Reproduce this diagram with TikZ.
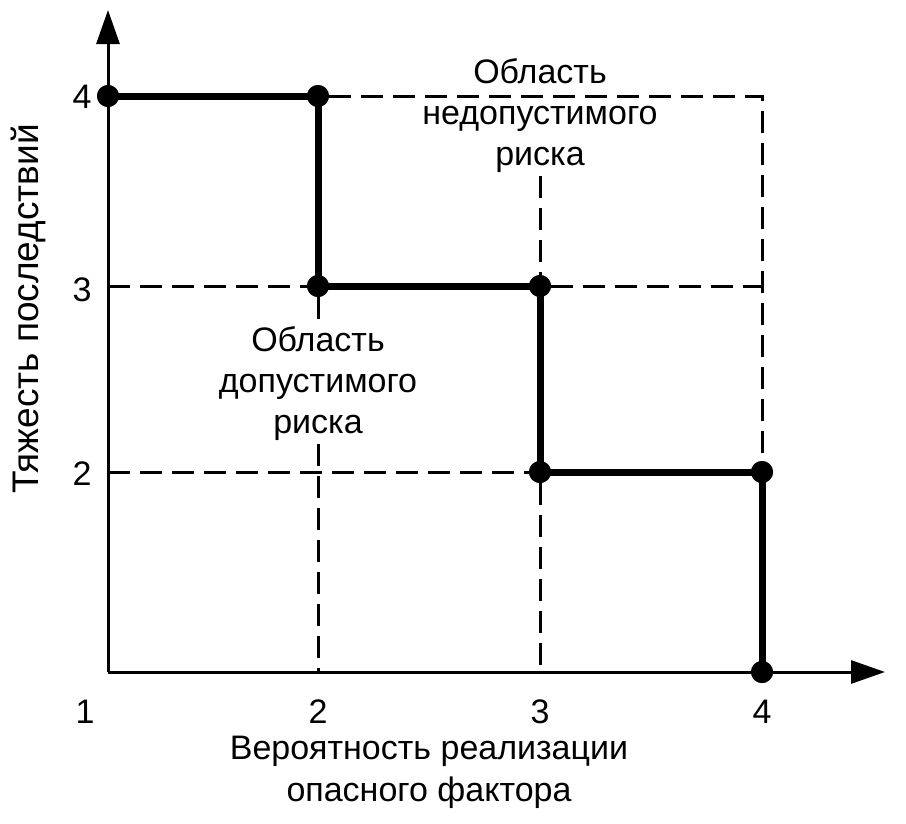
\documentclass[tikz,border=0pt]{standalone}
\usepackage{fontspec}
\setmainfont{Liberation Sans}
\usetikzlibrary{arrows.meta,positioning}

\begin{document}
\begin{tikzpicture}[
    x=1pt, y=-1pt,
    axis/.style={line width=3pt, -{Triangle[length=34pt,width=23pt]}},
    grid/.style={line width=3pt, dash pattern=on 22pt off 10pt},
    curve/.style={line width=7pt},
    dot/.style={circle, fill=black, inner sep=0pt, minimum size=22pt},
    lbl/.style={inner sep=3pt, align=center, font=\fontsize{34}{41}\selectfont},
    every node/.style={font=\fontsize{34}{41}\selectfont}
]
\useasboundingbox (0,0) rectangle (906,823);

% Axes
\coordinate (o) at (108,672);
\coordinate (ytop) at (108,10);
\coordinate (xend) at (885,672);
\draw[axis] (o) -- (ytop);
\draw[axis] (o) -- (xend);

% Points of the boundary
\node[dot] (d14) at (108,96) {};
\node[dot] (d24) at (318,96) {};
\node[dot] (d23) at (318,286) {};
\node[dot] (d33) at (540,286) {};
\node[dot] (d32) at (540,472) {};
\node[dot] (d42) at (762,472) {};
\node[dot] (d41) at (762,672) {};

% Helper coordinates
\coordinate (y3) at (108,286);
\coordinate (y2) at (108,472);
\coordinate (x2) at (318,672);
\coordinate (x3) at (540,672);
\coordinate (c44) at (762,96);
\coordinate (c43) at (762,286);

% Tick labels
\node (t1) at (85,712) {1};
\node (t2) at (318,712) {2};
\node (t3) at (540,712) {3};
\node (t4) at (762,712) {4};
\node (s4) at (82,97) {4};
\node (s3) at (82,290) {3};
\node (s2) at (82,474) {2};

% Areas
\node[lbl] (okarea) at (318,384) {Область\\допустимого\\риска};
\node[lbl] (badarea) at (540,116) {Область\\недопустимого\\риска};

% Axis titles
\node[rotate=90, font=\fontsize{37}{44}\selectfont] (ytitle) at (28,309) {Тяжесть последствий};
\node[align=center, font=\fontsize{34}{42}\selectfont] (xtitle) at (429,772) {Вероятность реализации\\опасного фактора};

% Dashed grid
\draw[grid] (y3) -- (d23);
\draw[grid] (d33) -- (c43);
\draw[grid] (y2) -- (d32);
\draw[grid] (d24) -- (c44) -- (d42);
\draw[grid] (d23) -- (okarea.north);
\draw[grid] (okarea.south) -- (x2);
\draw[grid] (badarea.south) -- (d33);
\draw[grid] (d32) -- (x3);

% Boundary
\draw[curve] (d14.center) -- (d24.center) -- (d23.center) -- (d33.center)
    -- (d32.center) -- (d42.center) -- (d41.center);
\foreach \p in {d14,d24,d23,d33,d32,d42,d41}
    \fill (\p) circle (11pt);

\end{tikzpicture}
\end{document}
